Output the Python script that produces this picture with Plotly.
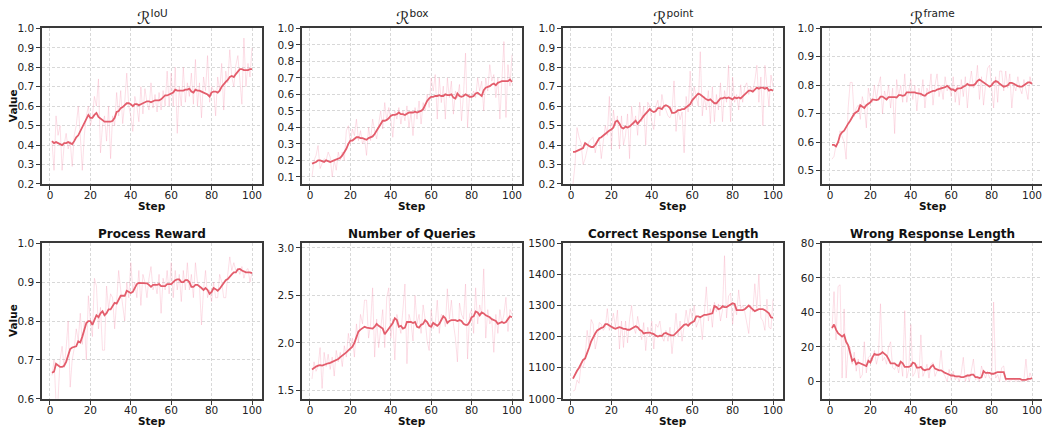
import plotly.graph_objects as go

steps = list(range(1, 101))

iou_raw = [0.42,0.27,0.55,0.45,0.50,0.27,0.40,0.46,0.38,0.42,0.29,0.45,0.50,0.60,0.45,0.27,0.45,0.55,0.60,0.50,0.55,0.65,0.60,0.74,0.36,0.50,0.55,0.42,0.60,0.33,0.55,0.50,0.67,0.55,0.68,0.51,0.62,0.77,0.60,0.55,0.47,0.65,0.60,0.52,0.70,0.56,0.69,0.62,0.58,0.72,0.59,0.66,0.57,0.67,0.58,0.68,0.60,0.78,0.60,0.77,0.60,0.80,0.46,0.70,0.60,0.80,0.62,0.72,0.65,0.77,0.61,0.84,0.60,0.72,0.54,0.75,0.68,0.86,0.62,0.70,0.68,0.55,0.75,0.68,0.82,0.58,0.78,0.72,0.89,0.75,0.70,0.81,0.86,0.72,0.61,0.95,0.70,0.82,0.75,0.90]
iou_smooth = [0.42,0.41,0.415,0.41,0.405,0.40,0.41,0.41,0.415,0.41,0.405,0.42,0.44,0.45,0.47,0.49,0.51,0.53,0.555,0.54,0.54,0.555,0.565,0.545,0.535,0.525,0.52,0.52,0.52,0.52,0.525,0.54,0.57,0.575,0.59,0.595,0.605,0.615,0.615,0.61,0.60,0.61,0.61,0.605,0.61,0.615,0.62,0.625,0.625,0.62,0.625,0.63,0.63,0.63,0.635,0.645,0.655,0.655,0.66,0.665,0.67,0.685,0.68,0.68,0.68,0.68,0.685,0.685,0.69,0.675,0.67,0.685,0.68,0.68,0.675,0.67,0.665,0.66,0.65,0.67,0.675,0.675,0.67,0.68,0.70,0.715,0.725,0.735,0.75,0.755,0.75,0.765,0.78,0.79,0.79,0.785,0.785,0.785,0.79,0.79]

box_raw = [0.10,0.20,0.23,0.29,0.15,0.18,0.21,0.20,0.25,0.22,0.10,0.20,0.14,0.25,0.20,0.25,0.20,0.38,0.41,0.30,0.39,0.35,0.45,0.32,0.38,0.30,0.33,0.23,0.40,0.32,0.45,0.38,0.33,0.42,0.50,0.39,0.55,0.44,0.52,0.45,0.34,0.50,0.45,0.52,0.42,0.50,0.44,0.53,0.40,0.49,0.35,0.52,0.45,0.56,0.42,0.55,0.50,0.60,0.52,0.70,0.62,0.72,0.45,0.70,0.55,0.65,0.45,0.70,0.58,0.68,0.48,0.62,0.58,0.66,0.44,0.60,0.85,0.40,0.60,0.58,0.62,0.58,0.70,0.62,0.68,0.50,0.70,0.62,0.78,0.68,0.72,0.58,0.70,0.45,0.70,0.92,0.46,0.78,0.65,0.84]
box_smooth = [0.18,0.185,0.19,0.20,0.20,0.195,0.19,0.20,0.195,0.19,0.195,0.20,0.205,0.21,0.215,0.23,0.25,0.27,0.30,0.32,0.32,0.33,0.34,0.34,0.335,0.335,0.33,0.325,0.335,0.34,0.345,0.36,0.38,0.40,0.42,0.44,0.44,0.445,0.455,0.47,0.475,0.475,0.48,0.49,0.48,0.48,0.475,0.485,0.49,0.49,0.49,0.495,0.49,0.495,0.50,0.51,0.54,0.56,0.575,0.585,0.585,0.59,0.59,0.595,0.59,0.59,0.60,0.595,0.595,0.60,0.58,0.575,0.605,0.59,0.585,0.59,0.60,0.59,0.585,0.585,0.59,0.605,0.61,0.60,0.59,0.625,0.64,0.645,0.65,0.66,0.665,0.655,0.67,0.675,0.68,0.68,0.68,0.68,0.69,0.675]

point_raw = [0.20,0.30,0.49,0.44,0.41,0.30,0.33,0.38,0.42,0.43,0.44,0.36,0.42,0.44,0.33,0.42,0.50,0.45,0.65,0.38,0.58,0.50,0.55,0.38,0.55,0.40,0.45,0.56,0.33,0.60,0.50,0.55,0.45,0.62,0.52,0.60,0.40,0.62,0.60,0.52,0.48,0.60,0.63,0.55,0.66,0.60,0.58,0.55,0.54,0.57,0.73,0.47,0.58,0.53,0.57,0.36,0.65,0.57,0.78,0.60,0.70,0.65,0.60,0.88,0.55,0.65,0.58,0.68,0.51,0.70,0.52,0.66,0.58,0.72,0.52,0.68,0.62,0.81,0.52,0.75,0.62,0.66,0.58,0.71,0.62,0.70,0.72,0.66,0.70,0.68,0.73,0.81,0.62,0.75,0.50,0.81,0.70,0.60,0.76,0.70]
point_smooth = [0.365,0.365,0.37,0.375,0.38,0.385,0.41,0.40,0.395,0.39,0.39,0.40,0.42,0.435,0.44,0.45,0.455,0.465,0.475,0.48,0.49,0.52,0.525,0.51,0.49,0.485,0.495,0.49,0.495,0.505,0.515,0.525,0.51,0.52,0.535,0.55,0.56,0.575,0.585,0.575,0.57,0.575,0.59,0.59,0.585,0.60,0.605,0.60,0.59,0.565,0.565,0.57,0.58,0.58,0.585,0.585,0.595,0.60,0.61,0.63,0.64,0.655,0.665,0.66,0.65,0.64,0.635,0.63,0.635,0.625,0.615,0.615,0.63,0.64,0.64,0.645,0.64,0.645,0.64,0.635,0.645,0.64,0.645,0.64,0.65,0.66,0.67,0.68,0.68,0.675,0.685,0.695,0.69,0.695,0.695,0.69,0.695,0.68,0.685,0.68]

frame_raw = [0.54,0.55,0.59,0.60,0.64,0.62,0.60,0.54,0.72,0.81,0.81,0.69,0.72,0.73,0.68,0.76,0.73,0.65,0.79,0.75,0.74,0.80,0.75,0.80,0.83,0.70,0.78,0.75,0.80,0.72,0.79,0.63,0.82,0.76,0.80,0.74,0.84,0.74,0.78,0.82,0.75,0.80,0.71,0.79,0.76,0.82,0.72,0.79,0.77,0.84,0.73,0.80,0.84,0.76,0.80,0.75,0.83,0.78,0.80,0.76,0.83,0.74,0.80,0.73,0.82,0.76,0.83,0.72,0.80,0.85,0.79,0.80,0.87,0.75,0.83,0.73,0.80,0.86,0.87,0.78,0.72,0.83,0.74,0.85,0.85,0.78,0.85,0.79,0.84,0.72,0.80,0.78,0.83,0.79,0.77,0.82,0.79,0.75,0.83,0.80]
frame_smooth = [0.59,0.59,0.585,0.60,0.625,0.635,0.64,0.655,0.665,0.675,0.69,0.70,0.705,0.71,0.73,0.725,0.72,0.73,0.735,0.74,0.75,0.748,0.748,0.75,0.76,0.76,0.755,0.75,0.758,0.758,0.76,0.758,0.757,0.765,0.765,0.763,0.765,0.775,0.775,0.775,0.775,0.775,0.772,0.77,0.77,0.765,0.763,0.77,0.775,0.777,0.78,0.78,0.785,0.787,0.787,0.79,0.793,0.798,0.79,0.785,0.785,0.78,0.788,0.79,0.79,0.795,0.798,0.805,0.80,0.80,0.80,0.805,0.815,0.82,0.815,0.81,0.805,0.80,0.795,0.80,0.81,0.815,0.812,0.805,0.80,0.795,0.797,0.80,0.808,0.808,0.805,0.80,0.797,0.795,0.795,0.80,0.805,0.81,0.81,0.805]

proc_raw = [0.66,0.70,0.59,0.60,0.70,0.735,0.68,0.73,0.80,0.63,0.70,0.73,0.78,0.75,0.82,0.74,0.80,0.70,0.865,0.80,0.76,0.91,0.89,0.78,0.835,0.725,0.725,0.89,0.83,0.87,0.86,0.78,0.85,0.93,0.88,0.84,0.80,0.90,0.86,0.95,0.88,0.90,0.86,0.93,0.84,0.92,0.90,0.86,0.91,0.94,0.88,0.90,0.87,0.92,0.82,0.91,0.88,0.93,0.87,0.95,0.86,0.93,0.88,0.92,0.85,0.93,0.88,0.95,0.88,0.92,0.86,0.95,0.90,0.89,0.79,0.88,0.93,0.86,0.88,0.85,0.90,0.86,0.86,0.92,0.90,0.86,0.86,0.92,0.965,0.93,0.95,0.93,0.935,0.92,0.94,0.91,0.93,0.935,0.90,0.925]
proc_smooth = [0.667,0.67,0.69,0.685,0.682,0.682,0.685,0.695,0.715,0.728,0.732,0.733,0.735,0.748,0.745,0.76,0.78,0.795,0.80,0.80,0.79,0.805,0.815,0.81,0.82,0.825,0.815,0.82,0.83,0.83,0.84,0.847,0.845,0.855,0.865,0.865,0.865,0.878,0.875,0.872,0.875,0.885,0.895,0.898,0.898,0.898,0.898,0.897,0.893,0.888,0.893,0.893,0.893,0.895,0.89,0.89,0.89,0.895,0.895,0.895,0.90,0.905,0.907,0.907,0.90,0.90,0.905,0.905,0.90,0.888,0.888,0.893,0.893,0.89,0.885,0.88,0.885,0.88,0.87,0.875,0.885,0.882,0.878,0.883,0.89,0.90,0.905,0.908,0.915,0.92,0.925,0.925,0.933,0.934,0.93,0.927,0.925,0.925,0.925,0.923]

queries_raw = [1.62,1.80,1.70,1.75,1.95,1.52,1.90,1.75,1.88,1.72,1.85,1.65,1.92,1.80,1.90,1.75,1.97,1.85,2.10,1.95,2.05,1.85,2.20,2.00,2.30,2.20,2.45,2.45,2.05,2.20,2.58,1.85,2.25,1.95,2.15,2.35,1.95,2.48,2.58,2.05,2.25,1.82,2.30,2.20,2.10,2.35,2.62,1.78,2.30,2.22,2.02,2.50,2.20,2.30,2.10,2.40,2.25,2.02,1.92,2.35,2.15,2.20,2.45,2.10,2.30,2.28,2.17,2.57,2.25,2.45,2.20,2.05,1.80,2.42,2.30,2.25,2.62,1.83,2.30,2.35,2.10,2.58,2.20,2.40,2.30,2.78,2.05,2.35,2.20,2.25,1.90,2.30,2.10,2.35,2.20,2.30,2.48,2.12,2.35,2.30]
queries_smooth = [1.72,1.74,1.75,1.76,1.765,1.76,1.77,1.78,1.785,1.79,1.80,1.81,1.82,1.83,1.85,1.865,1.88,1.90,1.92,1.94,1.96,2.00,2.07,2.12,2.14,2.16,2.17,2.16,2.155,2.15,2.15,2.17,2.20,2.18,2.16,2.15,2.09,2.12,2.16,2.18,2.21,2.26,2.24,2.17,2.18,2.15,2.16,2.22,2.22,2.22,2.21,2.22,2.17,2.16,2.19,2.20,2.24,2.22,2.18,2.17,2.21,2.19,2.18,2.20,2.25,2.28,2.26,2.21,2.23,2.24,2.24,2.24,2.23,2.24,2.23,2.20,2.19,2.19,2.22,2.27,2.28,2.33,2.32,2.29,2.32,2.31,2.29,2.28,2.27,2.25,2.24,2.23,2.20,2.21,2.22,2.21,2.22,2.25,2.28,2.27]

correct_raw = [1025,1028,1060,1050,1110,1100,1130,1220,1170,1255,1240,1160,1190,1245,1240,1220,1230,1290,1220,1240,1275,1230,1285,1160,1250,1165,1250,1180,1255,1300,1230,1210,1265,1230,1190,1245,1155,1230,1200,1250,1160,1240,1230,1250,1200,1185,1220,1185,1230,1145,1210,1275,1200,1250,1185,1235,1285,1240,1290,1260,1300,1230,1250,1265,1190,1290,1360,1250,1290,1230,1310,1280,1305,1250,1285,1460,1260,1330,1340,1240,1300,1270,1350,1290,1300,1280,1250,1210,1300,1280,1370,1290,1400,1260,1250,1220,1320,1230,1225,1320]
correct_smooth = [1065,1080,1090,1100,1115,1125,1130,1145,1165,1185,1200,1210,1220,1225,1228,1230,1240,1240,1235,1232,1228,1225,1228,1230,1228,1225,1225,1222,1222,1225,1230,1233,1230,1222,1218,1210,1212,1213,1213,1210,1208,1203,1200,1203,1202,1210,1212,1208,1205,1203,1205,1212,1218,1225,1230,1238,1240,1235,1242,1245,1250,1265,1265,1262,1265,1270,1270,1272,1275,1275,1298,1295,1288,1290,1298,1295,1295,1300,1305,1307,1305,1285,1285,1285,1285,1288,1295,1300,1293,1288,1282,1285,1288,1288,1288,1285,1280,1275,1262,1260]

wrong_raw = [30,52,24,55,56,2,42,2,20,20,10,17,6,13,2,4,23,5,14,15,12,18,10,15,45,12,14,10,20,23,8,7,10,5,12,3,41,2,7,33,3,5,10,2,27,3,6,10,2,10,11,3,6,7,18,5,3,0,7,1,6,1,3,0,5,14,0,4,0,6,13,1,2,0,9,5,2,6,2,1,46,2,4,0,8,9,0,2,0,1,2,0,1,0,0,1,13,0,5,2]
wrong_smooth = [31,33,30,28,27,26,27,23,21,16,12,13,10,11,10.5,10,9.5,9,12,11,14,16,15.5,15.5,16,17,16,15,13,10.5,10.5,10.5,9.5,9,11.5,10.5,8.5,8.5,8.5,9,11,10.5,8,8,8.5,7,6.5,7,7,8.5,9.5,7.5,7,6.5,6.5,5.5,5,4.5,4,3.5,3.5,3,3,3,2.5,2.5,3,3.5,3.5,4,4,2.5,2.5,2,2.5,6,5,5,5,4.5,4.5,5,5.5,5.5,5.5,5.5,1.5,1.5,1.5,1.5,1.5,1.5,1.5,1.5,1,1,1,1.5,1.5,2]

def rtitle(sup):
    return "ℛ<sup><span style='font-size:10.5px'>" + sup + "</span></sup>"

titles = [rtitle("IoU"), rtitle("box"), rtitle("point"), rtitle("frame"),
          "<b>Process Reward</b>", "<b>Number of Queries</b>", "<b>Correct Response Length</b>", "<b>Wrong Response Length</b>"]
raws = [iou_raw, box_raw, point_raw, frame_raw, proc_raw, queries_raw, correct_raw, wrong_raw]
smooths = [iou_smooth, box_smooth, point_smooth, frame_smooth, proc_smooth, queries_smooth, correct_smooth, wrong_smooth]
yranges = [[0.2, 1.0], [0.057, 1.0], [0.2, 1.0], [0.453, 1.0], [0.6, 1.0], [1.41, 3.05], [1000, 1500], [-10, 80]]
ytickvals = [
    [0.2,0.3,0.4,0.5,0.6,0.7,0.8,0.9,1.0],
    [0.1,0.2,0.3,0.4,0.5,0.6,0.7,0.8,0.9,1.0],
    [0.2,0.3,0.4,0.5,0.6,0.7,0.8,0.9,1.0],
    [0.5,0.6,0.7,0.8,0.9,1.0],
    [0.6,0.7,0.8,0.9,1.0],
    [1.5,2.0,2.5,3.0],
    [1000,1100,1200,1300,1400,1500],
    [0,20,40,60,80],
]
yticktext = [
    ["0.2","0.3","0.4","0.5","0.6","0.7","0.8","0.9","1.0"],
    ["0.1","0.2","0.3","0.4","0.5","0.6","0.7","0.8","0.9","1.0"],
    ["0.2","0.3","0.4","0.5","0.6","0.7","0.8","0.9","1.0"],
    ["0.5","0.6","0.7","0.8","0.9","1.0"],
    ["0.6","0.7","0.8","0.9","1.0"],
    ["1.5","2.0","2.5","3.0"],
    ["1000","1100","1200","1300","1400","1500"],
    ["0","20","40","60","80"],
]
xtickvals = [0, 20, 40, 60, 80, 100]

W, H = 1042, 434
col_px = [(42, 262), (302, 522), (563, 783), (822, 1042)]
row_px = [(23, 183), (244, 404)]

RAW_COLOR = "rgba(244,150,175,0.3)"
SMOOTH_COLOR = "#E35D6C"
SPINE = "#3a3a3a"
GRID = "#d8d8d8"
FONT = "DejaVu Sans"
TICKFONT = dict(family=FONT, size=10.5, color="#222")

fig = go.Figure()
annotations = []
for i in range(8):
    r, c = divmod(i, 4)
    n = i + 1
    xa = "x" if n == 1 else f"x{n}"
    ya = "y" if n == 1 else f"y{n}"
    fig.add_trace(go.Scatter(x=steps, y=raws[i], mode="lines", xaxis=xa, yaxis=ya,
                             line=dict(color=RAW_COLOR, width=1), showlegend=False, hoverinfo="skip"))
    fig.add_trace(go.Scatter(x=steps, y=smooths[i], mode="lines", xaxis=xa, yaxis=ya,
                             line=dict(color=SMOOTH_COLOR, width=1.8), showlegend=False))
    x0, x1 = col_px[c]
    y0, y1 = row_px[r]
    xd = [x0 / W, min(x1 / W, 1.0)]
    yd = [1 - y1 / H, 1 - y0 / H]
    last_col = (c == 3)
    fig.layout[f"xaxis{n if n > 1 else ''}"] = dict(
        domain=xd, anchor=ya, range=[-3.95, 104.95], tickvals=xtickvals,
        showline=True, linecolor=SPINE, linewidth=1.6, mirror=True,
        ticks="outside", ticklen=4, tickwidth=1.2, tickcolor=SPINE, ticklabelstandoff=-3,
        ticklabeloverflow="allow",
        showgrid=True, gridcolor=GRID, griddash="3px,2px", gridwidth=0.8,
        zeroline=False, tickfont=TICKFONT)
    fig.layout[f"yaxis{n if n > 1 else ''}"] = dict(
        domain=yd, anchor=xa, range=yranges[i], tickvals=ytickvals[i], ticktext=yticktext[i],
        showline=True, linecolor=SPINE, linewidth=1.6, mirror=(not last_col),
        ticks="outside", ticklen=4, tickwidth=1.2, tickcolor=SPINE,
        showgrid=True, gridcolor=GRID, griddash="3px,2px", gridwidth=0.8,
        zeroline=False, tickfont=TICKFONT)
    cx = (x0 + x1) / 2 / W if not last_col else (x0 + 1043) / 2 / W
    if r == 0:
        annotations.append(dict(text=titles[i], x=cx, y=1 - 12 / H, xref="paper", yref="paper",
                                showarrow=False, xanchor="center", yanchor="middle",
                                font=dict(family=FONT, size=17, color="#222")))
    else:
        annotations.append(dict(text=titles[i], x=cx, y=1 - 234 / H, xref="paper", yref="paper",
                                showarrow=False, xanchor="center", yanchor="middle",
                                font=dict(family=FONT, size=12, color="#111")))
    annotations.append(dict(text="<b>Step</b>", x=cx, y=1 - (y1 + 23) / H, xref="paper", yref="paper",
                            showarrow=False, xanchor="center", yanchor="middle",
                            font=dict(family=FONT, size=10.5, color="#111")))
    if c == 0:
        annotations.append(dict(text="<b>Value</b>", x=13 / W, y=1 - (y0 + y1) / 2 / H, xref="paper", yref="paper",
                                showarrow=False, xanchor="center", yanchor="middle", textangle=-90,
                                font=dict(family=FONT, size=10.5, color="#111")))

fig.update_layout(width=W, height=H, margin=dict(l=0, r=0, t=0, b=0),
                  paper_bgcolor="white", plot_bgcolor="white", annotations=annotations,
                  font=dict(family=FONT))
fig.write_html("out.html", config={"displayModeBar": False},
               post_script="document.body.style.margin='0';document.body.style.overflow='hidden';")
